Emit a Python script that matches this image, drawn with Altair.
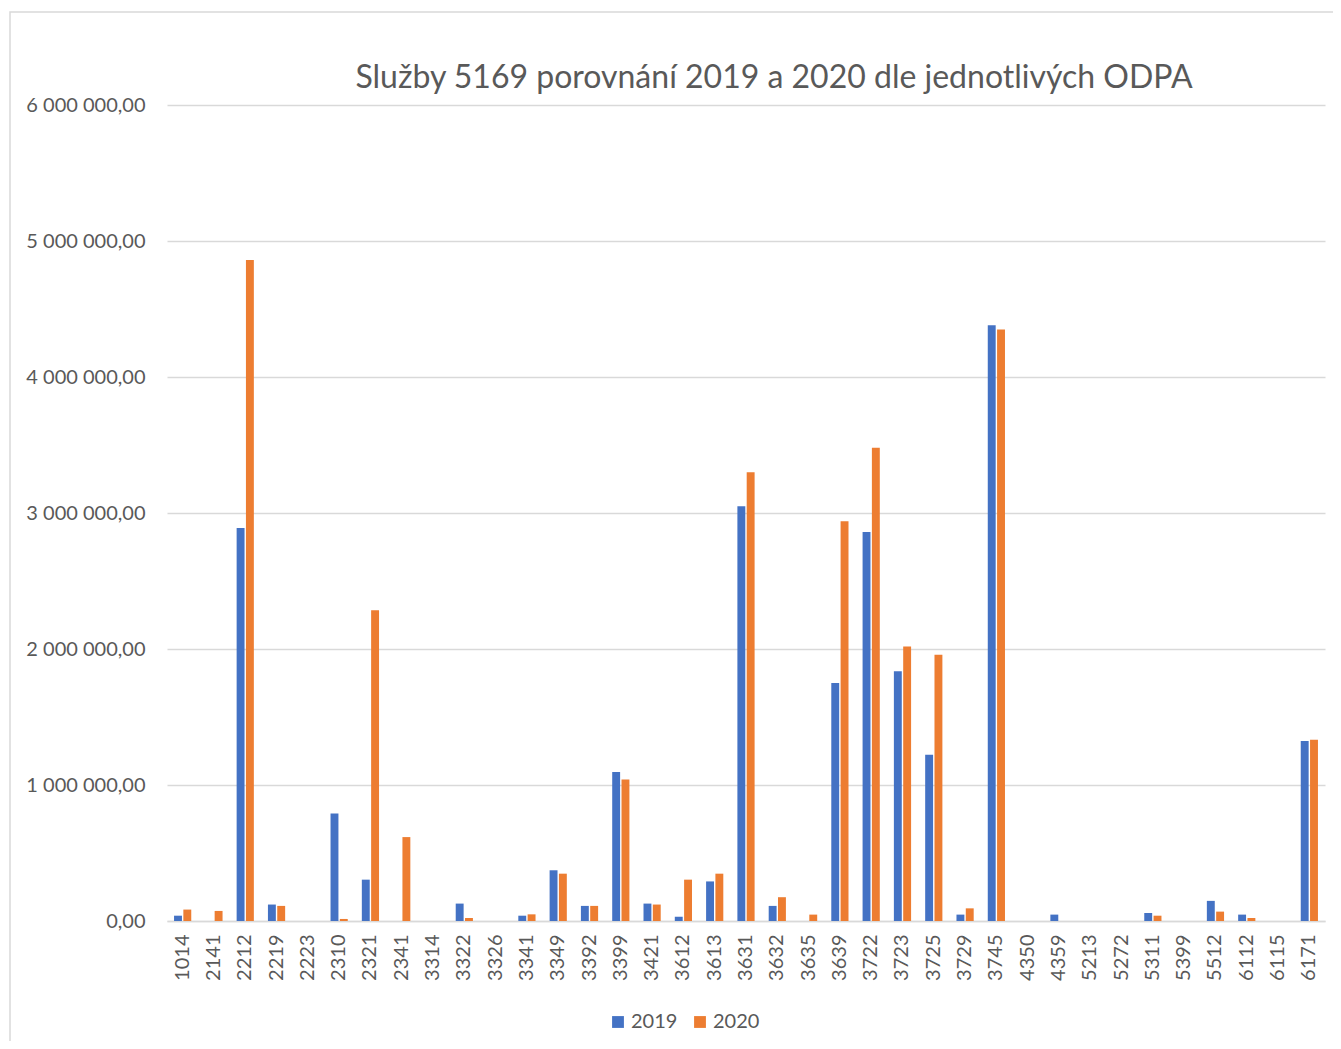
import altair as alt
import pandas as pd

categories = ["1014", "2141", "2212", "2219", "2223", "2310", "2321", "2341", "3314", "3322",
              "3326", "3341", "3349", "3392", "3399", "3421", "3612", "3613", "3631", "3632",
              "3635", "3639", "3722", "3723", "3725", "3729", "3745", "4350", "4359", "5213",
              "5272", "5311", "5399", "5512", "6112", "6115", "6171"]

values_2019 = [39000, 0, 2890000, 121000, 0, 790000, 304000, 0, 0, 128000,
               0, 39000, 373000, 111000, 1096000, 128000, 32000, 291000, 3050000, 111000,
               0, 1750000, 2860000, 1837000, 1222000, 47000, 4380000, 0, 47000, 0,
               0, 59000, 0, 148000, 47000, 0, 1323000]

values_2020 = [84000, 74000, 4860000, 111000, 0, 15000, 2285000, 617000, 0, 22000,
               0, 49000, 348000, 111000, 1041000, 121000, 304000, 348000, 3300000, 175000,
               47000, 2940000, 3480000, 2019000, 1958000, 93000, 4350000, 0, 0, 0,
               0, 39000, 0, 69000, 22000, 0, 1333000]

series = ["2019", "2020"]
colors = ["#4472C4", "#ED7D31"]
y_ticks = [0, 1000000, 2000000, 3000000, 4000000, 5000000, 6000000]

rows = []
for c, a, b in zip(categories, values_2019, values_2020):
    rows.append({"odpa": c, "rok": "2019", "hodnota": a})
    rows.append({"odpa": c, "rok": "2020", "hodnota": b})
df = pd.DataFrame(rows)

FONT = "Lato"
TEXT = "#595959"
GRID = "#d9d9d9"

bars = alt.Chart(df).mark_bar().encode(
    x=alt.X("odpa:N", sort=categories, title=None,
            scale=alt.Scale(paddingInner=0.45, paddingOuter=0.225),
            axis=alt.Axis(labelAngle=270, labelFontSize=20, labelColor=TEXT, labelFont=FONT,
                          labelPadding=13, ticks=False, domainColor=GRID, domainWidth=1.5,
                          labelBaseline="middle", labelAlign="right", grid=False)),
    xOffset=alt.XOffset("rok:N", scale=alt.Scale(paddingInner=0.15)),
    y=alt.Y("hodnota:Q", title=None,
            scale=alt.Scale(domain=[0, 6000000], nice=False),
            axis=alt.Axis(values=y_ticks, labelFontSize=20, labelColor=TEXT, labelFont=FONT,
                          labelPadding=22, ticks=False, domain=False, gridColor=GRID,
                          gridWidth=1.5,
                          labelExpr="replace(replace(format(datum.value, ',.2f'), regexp(',', 'g'), ' '), '.', ',')")),
    color=alt.Color("rok:N", scale=alt.Scale(domain=series, range=colors),
                    legend=alt.Legend(title=None, orient="none", direction="horizontal",
                                      legendX=441, legendY=907, symbolType="square",
                                      symbolSize=140, symbolStrokeWidth=0,
                                      labelFontSize=20, labelColor=TEXT, labelFont=FONT,
                                      columnPadding=12, labelOffset=3)),
)

border = alt.Chart(alt.Data(values=[{"a": 1}])).mark_rect(
    fill=None, stroke=GRID, strokeWidth=1.5
).encode(
    x=alt.value(-157), x2=alt.value(1200), y=alt.value(-93), y2=alt.value(980)
)

chart = alt.layer(border, bars).properties(
    width=1158,
    height=816,
    background="white",
    padding={"left": 159, "top": 97, "right": 8, "bottom": 120},
    autosize=alt.AutoSizeParams(type="none"),
    title=alt.Title("Služby 5169 porovnání 2019 a 2020 dle jednotlivých ODPA",
                    fontSize=32, font=FONT, color=TEXT, fontWeight="normal",
                    anchor="middle", offset=-84, dx=28),
).configure_view(strokeWidth=0, stroke="transparent")

chart.save("out.html", embed_options={"renderer": "svg", "actions": False})
